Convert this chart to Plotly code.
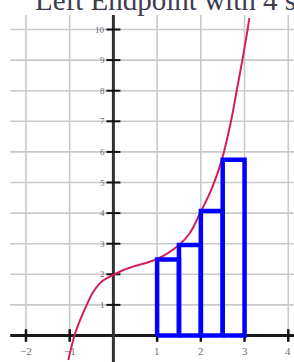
import plotly.graph_objects as go

# ---- data ----
curve_x = [-1.03, -0.89, -0.76, -0.61, -0.46, -0.27, 0.0, 0.23, 0.45, 1.0, 1.5, 1.75, 2.0, 2.25, 2.48, 2.69, 2.82, 2.95, 3.07, 3.11]
curve_y = [-0.80, 0.0, 0.51, 1.0, 1.43, 1.76, 1.98, 2.14, 2.25, 2.5, 2.96, 3.35, 4.05, 4.8, 5.74, 7.0, 8.0, 9.0, 10.0, 10.37]

rect_left = [1.0, 1.5, 2.0, 2.5]
rect_height = [2.48, 2.96, 4.07, 5.74]
rect_width = 0.5

x_ticks = [-2, -1, 1, 2, 3, 4]
x_tick_labels = ["\u22122", "\u22121", "1", "2", "3", "4"]
y_ticks = [1, 2, 3, 4, 5, 6, 7, 8, 9, 10]
y_tick_labels = [str(v) for v in y_ticks]

title_text = "Left Endpoint with 4 subintervals"

# ---- view ----
X_RANGE = [-2.594, 4.131]
Y_RANGE = [-0.866, 10.964]
GRID_LEFT = -2.36
GRID_TOP = 10.47

fig = go.Figure()

# grid
shapes = []
for yv in y_ticks:
    shapes.append(dict(type="line", xref="x", yref="y", x0=GRID_LEFT, x1=X_RANGE[1], y0=yv, y1=yv,
                       line=dict(color="#c9c9c9", width=1.6), layer="below"))
for xv in x_ticks:
    shapes.append(dict(type="line", xref="x", yref="y", x0=xv, x1=xv, y0=0, y1=GRID_TOP,
                       line=dict(color="#c9c9c9", width=1.6), layer="below"))

# axes lines
fig.add_trace(go.Scatter(x=[GRID_LEFT, X_RANGE[1]], y=[0, 0], mode="lines",
                         line=dict(color="#1a1a1a", width=3), hoverinfo="skip", showlegend=False))
fig.add_trace(go.Scatter(x=[0, 0], y=[Y_RANGE[0], GRID_TOP], mode="lines",
                         line=dict(color="#333333", width=3), hoverinfo="skip", showlegend=False))
# tick crosses
fig.add_trace(go.Scatter(x=x_ticks, y=[0] * len(x_ticks), mode="markers",
                         marker=dict(symbol="line-ns", size=9, line=dict(color="#111", width=2.5)),
                         hoverinfo="skip", showlegend=False))
fig.add_trace(go.Scatter(x=[0] * len(y_ticks), y=y_ticks, mode="markers",
                         marker=dict(symbol="line-ew", size=10, line=dict(color="#111", width=2)),
                         hoverinfo="skip", showlegend=False))

# function curve
fig.add_trace(go.Scatter(x=curve_x, y=curve_y, mode="lines",
                         line=dict(color="#d21f5a", width=2, shape="spline", smoothing=1.0),
                         hoverinfo="skip", showlegend=False))

# rectangles (left endpoint)
rx, ry = [], []
for l, h in zip(rect_left, rect_height):
    r = l + rect_width
    rx += [l, l, r, r, l, None]
    ry += [0, h, h, 0, 0, None]
fig.add_trace(go.Scatter(x=rx, y=ry, mode="lines",
                         line=dict(color="#0000ff", width=4.5),
                         hoverinfo="skip", showlegend=False))

annotations = []
for xv, lab in zip(x_ticks, x_tick_labels):
    annotations.append(dict(x=xv, y=0, xref="x", yref="y", text=lab, showarrow=False,
                            yanchor="top", xanchor="center", yshift=-7,
                            font=dict(family="Liberation Serif", size=11, color="#707070")))
for yv, lab in zip(y_ticks, y_tick_labels):
    annotations.append(dict(x=0, y=yv, xref="x", yref="y", text=lab, showarrow=False,
                            yanchor="middle", xanchor="right", xshift=-6,
                            font=dict(family="Liberation Serif", size=9, color="#6a6478")))
annotations.append(dict(x=33 / 294, y=1 - 18 / 362, xref="paper", yref="paper", text=title_text,
                        showarrow=False, xanchor="left", yanchor="bottom",
                        font=dict(family="Liberation Serif", size=29, color="#3c3c4e")))

fig.update_layout(
    width=294, height=362,
    margin=dict(l=0, r=0, t=0, b=0),
    paper_bgcolor="white", plot_bgcolor="white",
    xaxis=dict(range=X_RANGE, visible=False, fixedrange=True),
    yaxis=dict(range=Y_RANGE, visible=False, fixedrange=True),
    shapes=shapes, annotations=annotations, showlegend=False,
)

fig.write_html("out.html", config={"displayModeBar": False},
               post_script="document.body.style.margin='0';document.body.style.overflow='hidden';")
